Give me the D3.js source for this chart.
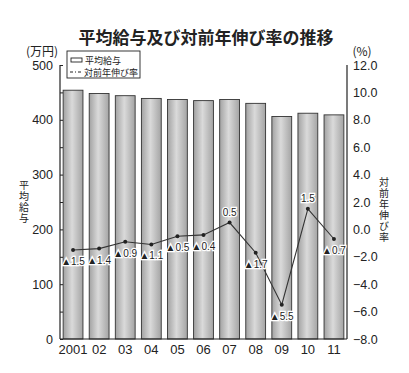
<!DOCTYPE html>
<html>
<head>
<meta charset="utf-8">
<script src="https://cdn.jsdelivr.net/npm/d3@7"></script>
<style>
  body { margin: 0; background: #fff; }
  svg text { font-family: "Liberation Sans", Arial, sans-serif; fill: #222; }
</style>
</head>
<body>
<div id="chart"></div>
<script>
// data
const years = ["2001", "02", "03", "04", "05", "06", "07", "08", "09", "10", "11"];
const salary = [454, 448, 444, 439, 437, 435, 437, 430, 406, 412, 409];
const growth = [-1.5, -1.4, -0.9, -1.1, -0.5, -0.4, 0.5, -1.7, -5.5, 1.5, -0.7];
const leftTicks = [0, 100, 200, 300, 400, 500];
const rightTicks = [-8, -6, -4, -2, 0, 2, 4, 6, 8, 10, 12];

const W = 409, H = 373;
const margin = { top: 65, right: 62, bottom: 34, left: 60 };
const innerW = W - margin.left - margin.right;
const innerH = H - margin.top - margin.bottom;

const svg = d3.select("#chart").append("svg")
  .attr("width", W)
  .attr("height", H);

const defs = svg.append("defs");
const grad = defs.append("linearGradient").attr("id", "barGrad")
  .attr("x1", "0").attr("x2", "1").attr("y1", "0").attr("y2", "0");
grad.append("stop").attr("offset", "0%").attr("stop-color", "#a2a2a2");
grad.append("stop").attr("offset", "45%").attr("stop-color", "#dadada");
grad.append("stop").attr("offset", "100%").attr("stop-color", "#a4a4a4");

const g = svg.append("g")
  .attr("transform", `translate(${margin.left},${margin.top})`);

const x = d3.scaleBand()
  .domain(years)
  .range([0, innerW])
  .paddingInner(0.24)
  .paddingOuter(0.12);

const y = d3.scaleLinear().domain([0, 500]).range([innerH, 0]);
const y2 = d3.scaleLinear().domain([-8, 12]).range([innerH, 0]);

// bars
g.selectAll(".bar")
  .data(salary)
  .join("rect")
  .attr("class", "bar")
  .attr("x", (d, i) => x(years[i]))
  .attr("y", d => y(d))
  .attr("width", x.bandwidth())
  .attr("height", d => innerH - y(d))
  .attr("fill", "url(#barGrad)")
  .attr("stroke", "#333")
  .attr("stroke-width", 0.9);

// left axis
const leftAxis = g.append("g")
  .call(d3.axisLeft(y).tickValues(d3.range(0, 501, 50)).tickSize(-3)
    .tickFormat(d => leftTicks.includes(d) ? d : ""));
leftAxis.select(".domain").attr("d", `M0,0V${innerH}`).attr("stroke", "#222").attr("stroke-width", 1.2);
leftAxis.selectAll(".tick line").attr("stroke", "#222");
leftAxis.selectAll(".tick text")
  .attr("x", -7)
  .style("font-size", "12.5px")
  .style("font-family", "'Liberation Sans', Arial, sans-serif");

// right axis
const rightAxis = g.append("g")
  .attr("transform", `translate(${innerW},0)`)
  .call(d3.axisRight(y2).tickValues(rightTicks).tickSize(0).tickFormat(d3.format(".1f")));
rightAxis.select(".domain").attr("d", `M0,0V${innerH}`).attr("stroke", "#222").attr("stroke-width", 1.2);
rightAxis.selectAll(".tick text")
  .attr("x", 6)
  .style("font-size", "12.5px")
  .style("font-family", "'Liberation Sans', Arial, sans-serif");

// bottom axis
const bottomAxis = g.append("g")
  .attr("transform", `translate(0,${innerH})`)
  .call(d3.axisBottom(x).tickSize(0));
bottomAxis.select(".domain").attr("d", `M0,0H${innerW}`).attr("stroke", "#222").attr("stroke-width", 1.2);
bottomAxis.selectAll(".tick text")
  .attr("y", 6)
  .style("font-size", "13px")
  .style("font-family", "'Liberation Sans', Arial, sans-serif");

// growth line
const line = d3.line()
  .x((d, i) => x(years[i]) + x.bandwidth() / 2)
  .y(d => y2(d));

g.append("path")
  .datum(growth)
  .attr("fill", "none")
  .attr("stroke", "#333")
  .attr("stroke-width", 1.1)
  .attr("d", line);

g.selectAll(".pt")
  .data(growth)
  .join("circle")
  .attr("class", "pt")
  .attr("cx", (d, i) => x(years[i]) + x.bandwidth() / 2)
  .attr("cy", d => y2(d))
  .attr("r", 2)
  .attr("fill", "#222");

// value labels (▲ = minus)
g.selectAll(".lbl")
  .data(growth)
  .join("text")
  .attr("class", "lbl")
  .attr("x", (d, i) => x(years[i]) + x.bandwidth() / 2)
  .attr("y", d => d < 0 ? y2(d) + 15 : y2(d) - 7)
  .attr("text-anchor", "middle")
  .style("font-size", "10px")
  .style("paint-order", "stroke")
  .style("stroke", "#fff")
  .style("stroke-width", "2.5px")
  .text(d => d < 0 ? "▲" + Math.abs(d).toFixed(1) : d.toFixed(1));

// title
svg.append("text")
  .attr("x", 206)
  .attr("y", 44)
  .attr("text-anchor", "middle")
  .style("font-family", "'Noto Sans CJK JP', sans-serif")
  .style("font-size", "17px")
  .style("font-weight", "bold")
  .text("平均給与及び対前年伸び率の推移");

// unit labels
svg.append("text")
  .attr("x", 42).attr("y", 56)
  .attr("text-anchor", "middle")
  .style("font-family", "'Noto Sans CJK JP', sans-serif")
  .style("font-size", "12px")
  .text("(万円)");
svg.append("text")
  .attr("x", 362).attr("y", 56)
  .attr("text-anchor", "middle")
  .style("font-family", "'Noto Sans CJK JP', sans-serif")
  .style("font-size", "12px")
  .text("(%)");

// vertical axis titles
function vTitle(str, cx, top) {
  svg.append("text")
    .attr("x", cx)
    .attr("y", top)
    .style("writing-mode", "vertical-rl")
    .style("text-orientation", "upright")
    .style("font-family", "'Noto Sans CJK JP', sans-serif")
    .style("font-size", "10px")
    .style("letter-spacing", "1px")
    .text(str);
}
vTitle("平均給与", 24, 180);
vTitle("対前年伸び率", 384, 177);

// legend
const lg = svg.append("g").attr("transform", "translate(67,51)");
lg.append("rect")
  .attr("width", 73).attr("height", 27)
  .attr("fill", "#fff").attr("stroke", "#222").attr("stroke-width", 0.9);
lg.append("rect")
  .attr("x", 4).attr("y", 7).attr("width", 11).attr("height", 4)
  .attr("fill", "#fff").attr("stroke", "#222").attr("stroke-width", 0.9);
lg.append("text")
  .attr("x", 18).attr("y", 12.5)
  .style("font-family", "'Noto Sans CJK JP', sans-serif")
  .style("font-size", "9px")
  .text("平均給与");
lg.append("line")
  .attr("x1", 3).attr("x2", 16).attr("y1", 21).attr("y2", 21)
  .attr("stroke", "#222").attr("stroke-width", 1)
  .attr("stroke-dasharray", "3,2,1,2");
lg.append("text")
  .attr("x", 17).attr("y", 24.5)
  .style("font-family", "'Noto Sans CJK JP', sans-serif")
  .style("font-size", "9px")
  .text("対前年伸び率");
</script>
</body>
</html>
